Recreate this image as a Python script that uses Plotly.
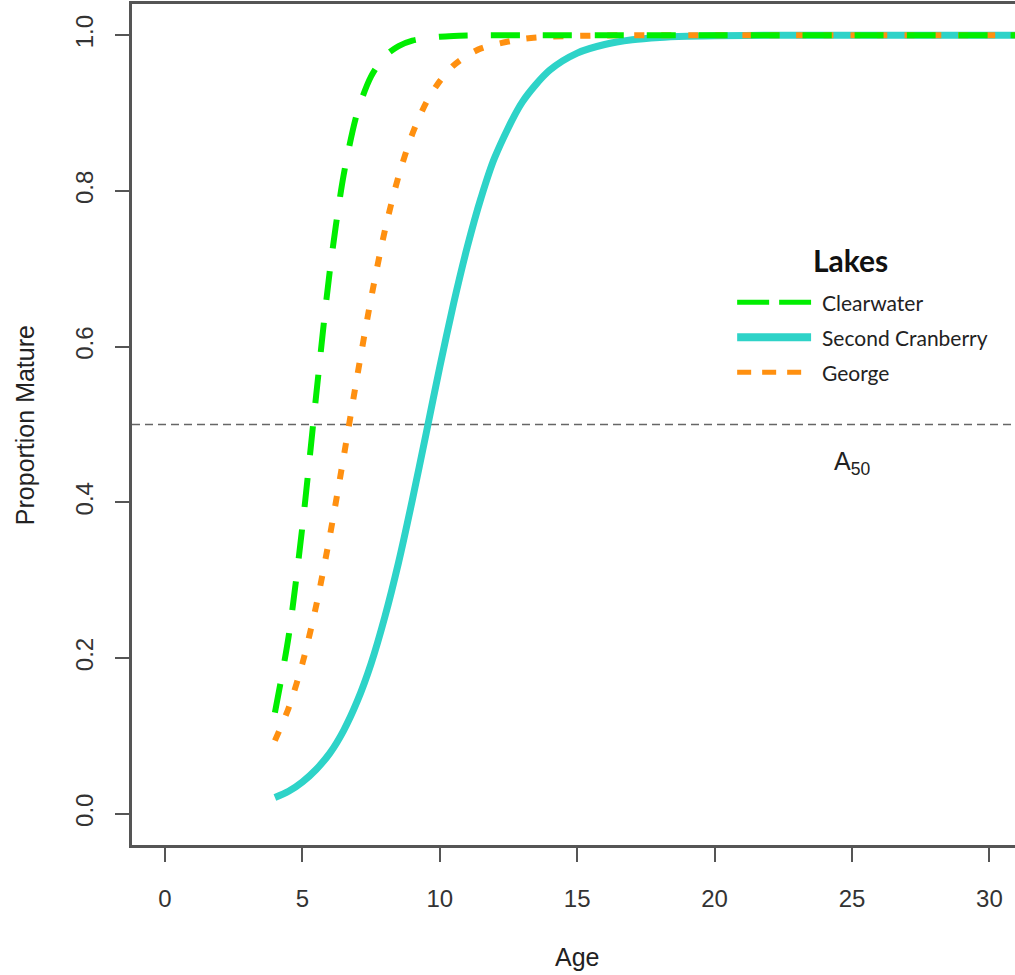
import plotly.graph_objects as go

# Age (years) at which the maturity ogives are evaluated
ages = [4, 4.5, 5, 5.5, 6, 6.5, 7, 7.5, 8, 8.5, 9, 9.5, 10, 10.5, 11, 11.5,
        12, 13, 14, 15, 16, 17, 18, 19, 20, 22, 25, 28, 32]

# Proportion mature by lake
clearwater = [0.130, 0.228, 0.369, 0.537, 0.698, 0.820, 0.901, 0.947, 0.973,
              0.986, 0.993, 0.996, 0.998, 0.999, 0.9995, 0.9998,
              1.0, 1.0, 1.0, 1.0, 1.0, 1.0, 1.0, 1.0, 1.0, 1.0, 1.0, 1.0, 1.0]
second_cranberry = [0.021, 0.029, 0.041, 0.057, 0.078, 0.107, 0.145, 0.193,
                    0.253, 0.323, 0.403, 0.488, 0.574, 0.655, 0.728, 0.791,
                    0.843, 0.914, 0.955, 0.977, 0.988, 0.994, 0.997, 0.9985,
                    0.9993, 0.9998, 1.0, 1.0, 1.0]
george = [0.094, 0.136, 0.193, 0.267, 0.357, 0.458, 0.563, 0.662, 0.749,
          0.819, 0.873, 0.913, 0.941, 0.961, 0.974, 0.983, 0.988, 0.995,
          0.998, 0.999, 0.9996, 1.0, 1.0, 1.0, 1.0, 1.0, 1.0, 1.0, 1.0]

lake_names = ["Clearwater", "Second Cranberry", "George"]
a50_level = 0.5

x_ticks = [0, 5, 10, 15, 20, 25, 30]
y_ticks = [0.0, 0.2, 0.4, 0.6, 0.8, 1.0]

GREEN = "#00EE00"
CYAN = "#2ED3C8"
ORANGE = "#FF9010"
AXIS = "#555555"
TEXT = "#222222"
SANS = "Liberation Sans, Arial, sans-serif"
LEG_FONT = "Lato, Open Sans, sans-serif"

styles = {
    "Clearwater": dict(color=GREEN, width=6, dash="29px,23px"),
    "Second Cranberry": dict(color=CYAN, width=7, dash="solid"),
    "George": dict(color=ORANGE, width=6, dash="10px,17px"),
}
series = {"Clearwater": clearwater, "Second Cranberry": second_cranberry,
          "George": george}

fig = go.Figure()

# drawing order: solid curve underneath, dashed ones on top
for name in ["Second Cranberry", "George", "Clearwater"]:
    fig.add_trace(go.Scatter(
        x=ages, y=series[name], mode="lines", name=name,
        line=dict(shape="spline", smoothing=0.8, **styles[name]),
        showlegend=False, hoverinfo="x+y+name",
    ))

# A50 reference line
fig.add_shape(type="line", xref="paper", yref="y", x0=0, x1=1,
              y0=a50_level, y1=a50_level,
              line=dict(color="#666666", width=1.5, dash="8px,5px"), layer="below")
fig.add_annotation(x=25, y=0.45, xref="x", yref="y", text="A<sub>50</sub>",
                   showarrow=False, font=dict(family=SANS, size=25, color=TEXT),
                   xanchor="center", yanchor="middle")

# hand-drawn legend block
fig.add_annotation(x=24.93, y=0.711, xref="x", yref="y", text="<b>Lakes</b>",
                   showarrow=False, font=dict(family=LEG_FONT, size=30, color="#111111"),
                   xanchor="center", yanchor="middle")
leg_rows = [0.657, 0.612, 0.567]
leg_width = {"Clearwater": 5, "Second Cranberry": 8, "George": 5}
leg_dash = {"Clearwater": "32px,10px", "Second Cranberry": "solid", "George": "14px,11px"}
for name, yy in zip(lake_names, leg_rows):
    fig.add_shape(type="line", xref="x", yref="y", x0=20.82, x1=23.51, y0=yy, y1=yy,
                  line=dict(color=styles[name]["color"], width=leg_width[name],
                            dash=leg_dash[name]))
    fig.add_annotation(x=23.84, y=yy, xref="x", yref="y", text=name, showarrow=False,
                       font=dict(family=LEG_FONT, size=21, color=TEXT),
                       xanchor="left", yanchor="middle")

# axis titles
fig.add_annotation(x=0.504, y=-0.133, xref="paper", yref="paper", text="Age",
                   showarrow=False, font=dict(family=SANS, size=25, color=TEXT),
                   xanchor="center", yanchor="middle")
fig.add_annotation(x=-0.121, y=0.4994, xref="paper", yref="paper",
                   text="Proportion Mature", textangle=-90, showarrow=False,
                   font=dict(family=SANS, size=25, color=TEXT),
                   xanchor="center", yanchor="middle")

fig.update_layout(
    width=1015, height=975,
    margin=dict(l=132, r=0, t=4, b=130),
    paper_bgcolor="white", plot_bgcolor="white",
    font=dict(family=SANS, color="#333333"),
    xaxis=dict(range=[-1.2, 30.93], tickvals=x_ticks, ticks="outside", ticklen=14,
               tickwidth=2, tickcolor=AXIS, showline=True, linecolor=AXIS,
               linewidth=2.5, mirror=True, showgrid=False, zeroline=False,
               tickfont=dict(family=SANS, size=24, color="#333333"),
               ticklabelstandoff=16),
    yaxis=dict(range=[-0.04, 1.04], tickvals=y_ticks, tickformat=".1f",
               ticks="outside", ticklen=14, tickwidth=2, tickcolor=AXIS,
               showline=True, linecolor=AXIS, linewidth=2.5, mirror=False,
               showgrid=False, zeroline=False, tickangle=-90,
               tickfont=dict(family=SANS, size=24, color="#333333"),
               ticklabelstandoff=13),
)

fig.write_html("out.html")
